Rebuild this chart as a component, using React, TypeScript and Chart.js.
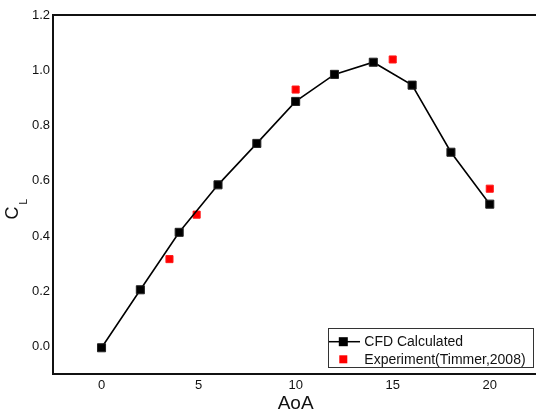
import React, { useEffect, useRef } from 'react';
import { Chart, registerables } from 'chart.js';

Chart.register(...registerables);

const cfdAoA = [0, 2, 4, 6, 8, 10, 12, 14, 16, 18, 20];
const cfdCL = [-0.005, 0.205, 0.413, 0.585, 0.735, 0.887, 0.985, 1.029, 0.946, 0.703, 0.515];
const expAoA = [3.5, 4.9, 10, 15, 20];
const expCL = [0.316, 0.477, 0.93, 1.039, 0.571];
const xTicks = [0, 5, 10, 15, 20];
const yTicks = [0, 0.2, 0.4, 0.6, 0.8, 1.0, 1.2];
const seriesNames = ['CFD Calculated', 'Experiment(Timmer,2008)'];
const xTitle = 'AoA';
const yTitleMain = 'C';
const yTitleSub = 'L';

const FONT = "'Liberation Sans', Arial, sans-serif";

const decorPlugin = {
  id: 'decor',
  afterDraw(chart: any) {
    const ctx = chart.ctx;
    const a = chart.chartArea;
    ctx.save();
    // top border
    ctx.strokeStyle = '#111';
    ctx.lineWidth = 2;
    ctx.beginPath();
    ctx.moveTo(a.left - 1, a.top);
    ctx.lineTo(a.right + 1, a.top);
    ctx.stroke();

    // x title
    ctx.fillStyle = '#111';
    ctx.font = `19px ${FONT}`;
    ctx.textAlign = 'center';
    ctx.textBaseline = 'middle';
    ctx.fillText(xTitle, (a.left + a.right) / 2, 404);

    // y title with subscript
    ctx.save();
    ctx.translate(13.5, 213);
    ctx.rotate(-Math.PI / 2);
    ctx.font = `18px ${FONT}`;
    ctx.fillText(yTitleMain, 0, 0);
    ctx.font = `10px ${FONT}`;
    ctx.fillText(yTitleSub, 11.3, 11);
    ctx.restore();

    // legend
    const bx = 328, by = 328, bw = 205, bh = 39;
    ctx.strokeStyle = '#333';
    ctx.lineWidth = 1;
    ctx.strokeRect(bx + 0.5, by + 0.5, bw, bh);
    const ds = chart.data.datasets;
    const rows = [341.7, 359.3];
    ctx.font = `14px ${FONT}`;
    ctx.textAlign = 'left';
    ds.forEach((d: any, i: number) => {
      const y = rows[i];
      if (d.showLine !== false) {
        ctx.strokeStyle = d.borderColor;
        ctx.lineWidth = 1.5;
        ctx.beginPath();
        ctx.moveTo(bx + 1, y);
        ctx.lineTo(bx + 32, y);
        ctx.stroke();
      }
      ctx.fillStyle = d.pointBackgroundColor;
      const s = i === 0 ? 9 : 8;
      ctx.fillRect(343.3 - s / 2, y - s / 2, s, s);
      ctx.fillStyle = '#111';
      ctx.fillText(d.label, 364.3, y + 0.5);
    });
    ctx.restore();
  },
};

export default function App() {
  const ref = useRef<HTMLCanvasElement>(null);
  useEffect(() => {
    if (!ref.current) return;
    const chart = new Chart(ref.current, {
      type: 'scatter',
      data: {
        datasets: [
          {
            label: seriesNames[0],
            data: cfdAoA.map((x, i) => ({ x, y: cfdCL[i] })),
            showLine: true,
            borderColor: '#000',
            borderWidth: 1.6,
            pointStyle: 'rect',
            pointRadius: 5.7,
            pointBorderWidth: 1,
            pointBackgroundColor: '#000',
            pointBorderColor: '#222',
          },
          {
            label: seriesNames[1],
            data: expAoA.map((x, i) => ({ x, y: expCL[i] })),
            showLine: false,
            borderColor: '#ff0000',
            pointStyle: 'rect',
            pointRadius: 5,
            pointBorderWidth: 1,
            pointBackgroundColor: '#ff0000',
            pointBorderColor: '#ff1a1a',
          },
        ],
      },
      options: {
        animation: false,
        responsive: false,
        devicePixelRatio: 1,
        layout: { padding: { left: 0, right: 6, top: 15, bottom: 0 } },
        plugins: { legend: { display: false }, tooltip: { enabled: false } },
        scales: {
          x: {
            type: 'linear',
            min: -2.5,
            max: 22.5,
            grid: { display: false, drawTicks: false },
            border: { display: true, color: '#111', width: 2 },
            ticks: {
              padding: 4,
              color: '#111',
              font: { family: FONT, size: 13 },
              autoSkip: false,
              maxRotation: 0,
              callback: (v: any) => String(v),
            },
            afterBuildTicks: (s: any) => {
              s.ticks = xTicks.map((v) => ({ value: v }));
            },
            afterFit: (s: any) => {
              s.height = 42;
            },
          },
          y: {
            type: 'linear',
            min: -0.1,
            max: 1.2,
            grid: { display: false, drawTicks: false },
            border: { display: true, color: '#111', width: 2 },
            ticks: {
              padding: 3,
              color: '#111',
              font: { family: FONT, size: 13 },
              autoSkip: false,
              callback: (v: any) => Number(v).toFixed(1),
            },
            afterBuildTicks: (s: any) => {
              s.ticks = yTicks.map((v) => ({ value: v }));
            },
            afterFit: (s: any) => {
              s.width = 53;
            },
          },
        },
      },
      plugins: [decorPlugin],
    } as any);
    return () => chart.destroy();
  }, []);
  return (
    <div
      style={{
        position: 'fixed',
        left: 0,
        top: 0,
        width: 536,
        height: 416,
        overflow: 'hidden',
        background: '#fff',
      }}
    >
      <canvas ref={ref} width={545} height={416} style={{ display: 'block' }} />
    </div>
  );
}
